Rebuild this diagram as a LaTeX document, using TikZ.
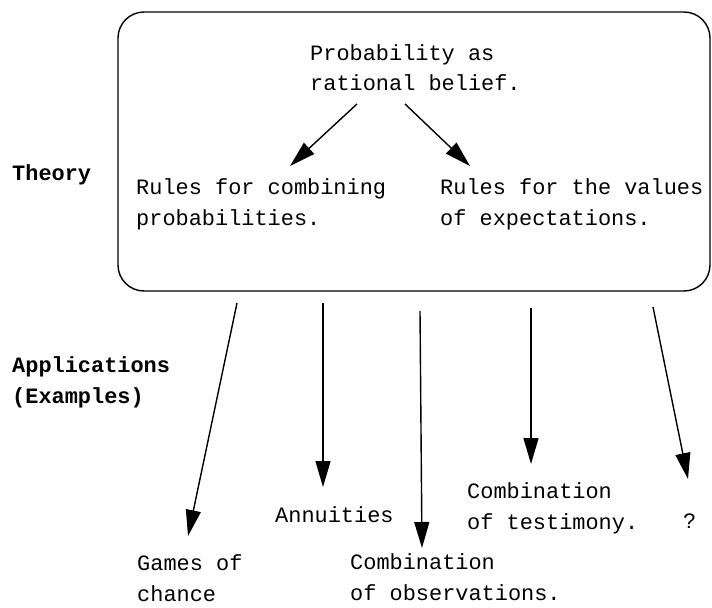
\documentclass[tikz,border=0pt]{standalone}
\usepackage{fontspec}
\setmainfont{Liberation Mono}
\usetikzlibrary{arrows.meta}
\tikzset{
  txt/.style={anchor=base west, inner sep=0pt, align=left,
    font=\fontsize{22}{31}\selectfont},
  lbl/.style={txt, font=\fontsize{22}{31}\selectfont\bfseries},
  arr/.style={line width=1.4bp, -{Triangle[length=26bp,width=15bp]}},
  frame/.style={line width=1.4bp, rounded corners=26bp}
}
\begin{document}
\begin{tikzpicture}[x=1bp,y=-1bp]
\useasboundingbox (0,0) rectangle (712,608);
% theory frame
\draw[frame] (118,12) rectangle (710,291);

% side labels (placed by the baseline of their last line)
\node[lbl] (theory) at (12,181) {Theory};
\node[lbl] (appl) at (12,403) {Applications\\(Examples)};

% theory contents
\node[txt] (belief) at (310,91) {Probability as\\rational belief.};
\node[txt] (comb) at (136,225) {Rules for combining\\probabilities.};
\node[txt] (expect) at (440,225) {Rules for the values\\of expectations.};

\coordinate (b1) at (357,104);
\coordinate (b2) at (405,104);
\coordinate (c1) at (290,166);
\coordinate (c2) at (470,166);
\draw[arr] (b1) -- (c1);
\draw[arr] (b2) -- (c2);

% applications
\node[txt] (games) at (137,601) {Games of\\chance};
\node[txt] (annu) at (275,522) {Annuities};
\node[txt] (obs) at (350,600) {Combination\\of observations.};
\node[txt] (test) at (467,529) {Combination\\of testimony.};
\node[txt] (q) at (683,528) {?};

\coordinate (s1) at (237,303);
\coordinate (t1) at (188,536);
\coordinate (s2) at (323,303);
\coordinate (t2) at (323,487);
\coordinate (s3) at (420,311);
\coordinate (t3) at (422,548);
\coordinate (s4) at (531,308);
\coordinate (t4) at (531,464);
\coordinate (s5) at (653,307);
\coordinate (t5) at (688,479);
\draw[arr] (s1) -- (t1);
\draw[arr] (s2) -- (t2);
\draw[arr] (s3) -- (t3);
\draw[arr] (s4) -- (t4);
\draw[arr] (s5) -- (t5);
\end{tikzpicture}
\end{document}
